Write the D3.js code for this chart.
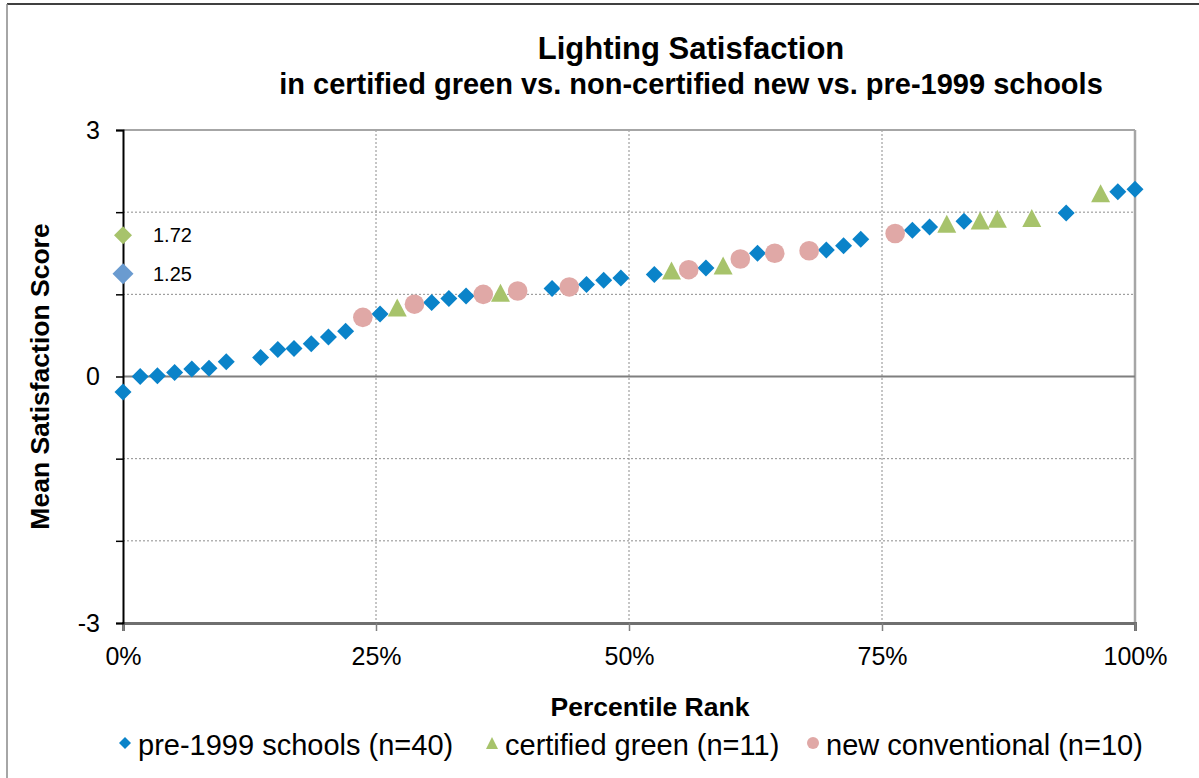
<!DOCTYPE html>
<html>
<head>
<meta charset="utf-8">
<script src="https://cdn.jsdelivr.net/npm/d3@7"></script>
<style>
  body { margin: 0; background: #fff; }
  svg { font-family: "Liberation Sans", Arial, sans-serif; }
</style>
</head>
<body>
<div id="chart"></div>
<script>
// percentile rank (%) and mean score
const preX = [0, 1.7, 3.4, 5.1, 6.8, 8.5, 10.2, 13.6, 15.3, 16.9, 18.6, 20.3, 22.0, 25.4,
  30.5, 32.2, 33.9, 42.4, 45.8, 47.5, 49.2, 52.5, 57.6, 62.7, 69.5, 71.2, 72.9,
  78.0, 79.7, 83.1, 93.2, 98.3, 100];
const preY = [-0.19, 0.00, 0.01, 0.05, 0.09, 0.10, 0.18, 0.23, 0.33, 0.34, 0.40, 0.48, 0.55, 0.76,
  0.90, 0.95, 0.98, 1.07, 1.12, 1.17, 1.20, 1.24, 1.32, 1.50, 1.54, 1.59, 1.67,
  1.78, 1.82, 1.89, 1.99, 2.25, 2.28];

const greenX = [27.1, 37.3, 54.2, 59.3, 81.4, 84.7, 86.4, 89.8, 96.6];
const greenY = [0.84, 1.02, 1.29, 1.35, 1.86, 1.90, 1.92, 1.93, 2.23];

const newX = [23.7, 28.8, 35.6, 39.0, 44.1, 55.9, 61.0, 64.4, 67.8, 76.3];
const newY = [0.72, 0.88, 1.00, 1.04, 1.09, 1.30, 1.43, 1.50, 1.53, 1.74];

// medians shown on the axis
const medianLabels = ["1.72", "1.25"];
const medianY = [1.72, 1.25];

const yTicks = [-3, -2, -1, 0, 1, 2, 3];
const yTickLabels = ["-3", "", "", "0", "", "", "3"];
const xTicks = [0, 25, 50, 75, 100];
const xTickLabels = ["0%", "25%", "50%", "75%", "100%"];
const legendLabels = ["pre-1999 schools (n=40)", "certified green (n=11)", "new conventional (n=10)"];

const width = 1199, height = 778;
const blue = "#0a83c9", green = "#a7c36b", pink = "#e0a8a6", medBlue = "#6a9bd0";

const svg = d3.select("#chart").append("svg")
  .attr("width", width)
  .attr("height", height);

// outer frame
svg.append("line").attr("x1", 7).attr("x2", width).attr("y1", 4).attr("y2", 4)
  .attr("stroke", "#000").attr("stroke-width", 1.5);
svg.append("line").attr("x1", 7).attr("x2", 7).attr("y1", 4).attr("y2", height)
  .attr("stroke", "#888").attr("stroke-width", 1.5);

const x = d3.scaleLinear().domain([0, 100]).range([123, 1135]);
const y = d3.scaleLinear().domain([-3, 3]).range([623, 130]);

// gridlines
svg.append("g").selectAll("line")
  .data(yTicks.filter(d => d !== 0 && Math.abs(d) !== 3))
  .join("line")
  .attr("x1", x(0)).attr("x2", x(100))
  .attr("y1", d => y(d)).attr("y2", d => y(d))
  .attr("stroke", "#8c8c8c").attr("stroke-width", 1).attr("stroke-dasharray", "2,2");
svg.append("g").selectAll("line")
  .data(xTicks.filter(d => d > 0 && d < 100))
  .join("line")
  .attr("x1", d => x(d)).attr("x2", d => x(d))
  .attr("y1", y(3)).attr("y2", y(-3))
  .attr("stroke", "#8c8c8c").attr("stroke-width", 1).attr("stroke-dasharray", "2,2");

// plot borders
svg.append("line").attr("x1", x(0)).attr("x2", x(100)).attr("y1", y(3)).attr("y2", y(3))
  .attr("stroke", "#a6a6a6").attr("stroke-width", 2);
svg.append("line").attr("x1", x(100)).attr("x2", x(100)).attr("y1", y(3)).attr("y2", y(-3))
  .attr("stroke", "#a6a6a6").attr("stroke-width", 2.5);
svg.append("line").attr("x1", x(0)).attr("x2", x(100)).attr("y1", y(0)).attr("y2", y(0))
  .attr("stroke", "#7f7f7f").attr("stroke-width", 2);

// x axis sits at -3
const xAxis = svg.append("g")
  .attr("transform", `translate(0,${y(-3)})`)
  .call(d3.axisBottom(x).tickValues(xTicks).tickSize(8).tickPadding(16)
    .tickFormat((d, i) => xTickLabels[i]));
xAxis.select(".domain").attr("stroke", "#6f6f6f").attr("stroke-width", 3);
xAxis.selectAll(".tick line").attr("stroke", "#7f7f7f").attr("stroke-width", 1.5);
xAxis.selectAll(".tick text").attr("font-size", 25).attr("fill", "#000")
  .attr("font-family", "Liberation Sans, Arial, sans-serif");

const yAxis = svg.append("g")
  .attr("transform", `translate(${x(0)},0)`)
  .call(d3.axisLeft(y).tickValues(yTicks).tickSize(7).tickPadding(16)
    .tickFormat((d, i) => yTickLabels[i]));
yAxis.select(".domain").attr("stroke", "#000").attr("stroke-width", 2);
yAxis.selectAll(".tick line").attr("stroke", "#000").attr("stroke-width", 1.5);
yAxis.selectAll(".tick text").attr("font-size", 25).attr("fill", "#000")
  .attr("font-family", "Liberation Sans, Arial, sans-serif");

// marker shapes
function diamond(r) {
  return `M0,${-r}L${r},0L0,${r}L${-r},0Z`;
}
function triangle(w, h) {
  return `M0,${-h / 2}L${w / 2},${h / 2}L${-w / 2},${h / 2}Z`;
}

// medians
svg.append("path").attr("d", diamond(9))
  .attr("transform", `translate(${x(0)},${y(medianY[0])})`).attr("fill", green);
svg.append("path").attr("d", diamond(10.5))
  .attr("transform", `translate(${x(0)},${y(medianY[1])})`).attr("fill", medBlue);
svg.append("g").selectAll("text")
  .data(medianLabels)
  .join("text")
  .attr("x", 153)
  .attr("y", (d, i) => y(medianY[i]))
  .attr("dy", "0.35em")
  .attr("font-size", 20)
  .text(d => d);

// series
svg.append("g").selectAll("path")
  .data(preX.map((d, i) => [d, preY[i]]))
  .join("path")
  .attr("d", diamond(8.5))
  .attr("transform", d => `translate(${x(d[0])},${y(d[1])})`)
  .attr("fill", blue);

svg.append("g").selectAll("path")
  .data(greenX.map((d, i) => [d, greenY[i]]))
  .join("path")
  .attr("d", triangle(19, 18))
  .attr("transform", d => `translate(${x(d[0])},${y(d[1])})`)
  .attr("fill", green);

svg.append("g").selectAll("circle")
  .data(newX.map((d, i) => [d, newY[i]]))
  .join("circle")
  .attr("cx", d => x(d[0]))
  .attr("cy", d => y(d[1]))
  .attr("r", 9.8)
  .attr("fill", pink);

// titles
svg.append("text").attr("x", 691).attr("y", 59).attr("text-anchor", "middle")
  .attr("font-size", 31).attr("font-weight", "bold").text("Lighting Satisfaction");
svg.append("text").attr("x", 691).attr("y", 94).attr("text-anchor", "middle")
  .attr("font-size", 29).attr("font-weight", "bold")
  .text("in certified green vs. non-certified new vs. pre-1999 schools");
svg.append("text").attr("x", 650).attr("y", 716).attr("text-anchor", "middle")
  .attr("font-size", 26.5).attr("font-weight", "bold").text("Percentile Rank");
svg.append("text")
  .attr("transform", `translate(49,${(y(3) + y(-3)) / 2}) rotate(-90)`)
  .attr("text-anchor", "middle")
  .attr("font-size", 26.5).attr("font-weight", "bold").text("Mean Satisfaction Score");

// legend
const legendX = [125, 492, 813];
const legendY = 745;
const lg = svg.append("g");
lg.append("path").attr("d", diamond(6)).attr("transform", `translate(${legendX[0]},${legendY - 2})`).attr("fill", blue);
lg.append("path").attr("d", triangle(12, 12)).attr("transform", `translate(${legendX[1]},${legendY - 2})`).attr("fill", green);
lg.append("circle").attr("cx", legendX[2]).attr("cy", legendY - 2).attr("r", 6).attr("fill", pink);
lg.selectAll("text")
  .data(legendLabels)
  .join("text")
  .attr("x", (d, i) => legendX[i] + 13)
  .attr("y", legendY)
  .attr("dy", "0.35em")
  .attr("font-size", 29)
  .text(d => d);
</script>
</body>
</html>
